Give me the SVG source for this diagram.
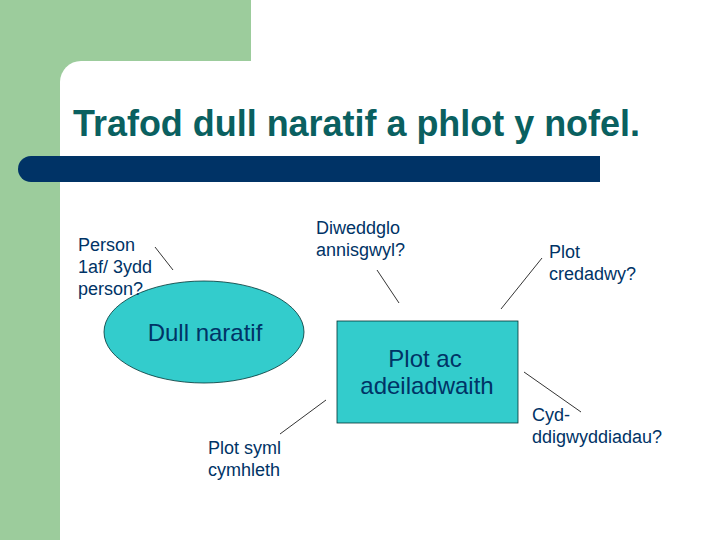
<svg xmlns="http://www.w3.org/2000/svg" width="720" height="540" viewBox="0 0 720 540">
<style>
.lbl{font-family:"Liberation Sans",Arial,sans-serif;font-size:18px;fill:#003366}
.big{font-family:"Liberation Sans",Arial,sans-serif;font-size:24px;fill:#003366}
.ln{stroke:#000000;stroke-width:0.8;fill:none}
</style>
<rect x="0" y="0" width="720" height="540" fill="#ffffff"/>
<g id="background">
<rect x="0" y="0" width="251" height="540" fill="#9ccc9c"/>
<path d="M60,540 V82 A21,21 0 0 1 81,61 H720 V540 Z" fill="#ffffff"/>
<path d="M31,156 H600 V182 H31 A13,13 0 0 1 31,156 Z" fill="#003366"/>
<text x="73" y="136" font-family="'Liberation Sans',Arial,sans-serif" font-size="36" font-weight="bold" fill="#0a6060" textLength="567" lengthAdjust="spacingAndGlyphs">Trafod dull naratif a phlot y nofel.</text>
</g>
<g id="connectors">
<line class="ln" x1="155" y1="247" x2="173" y2="270"/>
<line class="ln" x1="377" y1="270" x2="399" y2="303"/>
<line class="ln" x1="542" y1="258" x2="501" y2="309"/>
<line class="ln" x1="524" y1="372" x2="581" y2="412"/>
<line class="ln" x1="326" y1="400" x2="280" y2="434"/>
</g>
<g id="dull-naratif">
<ellipse cx="204" cy="332" rx="100" ry="51" fill="#33cccc" stroke="#003333" stroke-width="0.8"/>
<text class="big" x="205" y="341" text-anchor="middle">Dull naratif</text>
</g>
<g id="plot-ac-adeiladwaith">
<rect x="337" y="321" width="181" height="102" fill="#33cccc" stroke="#003333" stroke-width="0.8"/>
<text class="big" x="425" y="367" text-anchor="middle">Plot ac</text>
<text class="big" x="427" y="394" text-anchor="middle">adeiladwaith</text>
</g>
<g id="person">
<text class="lbl" x="78" y="251">Person</text>
<text class="lbl" x="78" y="273">1af/ 3ydd</text>
<text class="lbl" x="78" y="295">person?</text>
</g>
<g id="diweddglo">
<text class="lbl" x="316" y="234">Diweddglo</text>
<text class="lbl" x="316" y="256">annisgwyl?</text>
</g>
<g id="plot-credadwy">
<text class="lbl" x="549" y="258">Plot</text>
<text class="lbl" x="549" y="280">credadwy?</text>
</g>
<g id="cyd">
<text class="lbl" x="532" y="421">Cyd-</text>
<text class="lbl" x="532" y="443">ddigwyddiadau?</text>
</g>
<g id="plot-syml">
<text class="lbl" x="208" y="454">Plot syml</text>
<text class="lbl" x="208" y="476">cymhleth</text>
</g>
</svg>
